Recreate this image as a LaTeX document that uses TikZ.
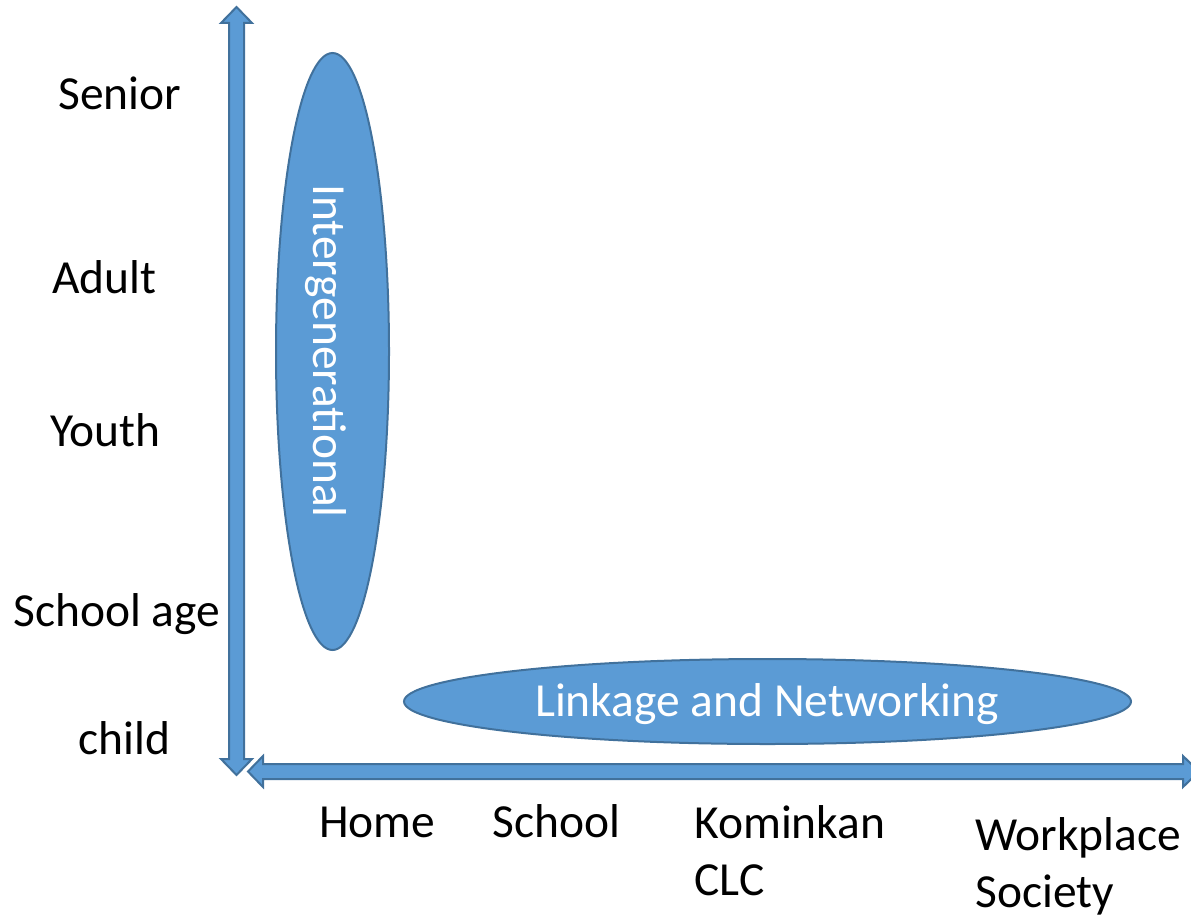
\documentclass[tikz,border=0pt]{standalone}
\usepackage{xcolor}
\usepackage{fontspec}
\setmainfont{Carlito}
\usepackage{tikz}
\usetikzlibrary{shapes, arrows}

\definecolor{blockfill}{RGB}{91,155,213}
\definecolor{blockline}{RGB}{65,113,156}

\begin{document}
\begin{tikzpicture}[x=0.75pt,y=0.75pt,yscale=-1,xscale=1,
  blockarrow/.style={draw=blockline, fill=blockfill, line width=1.5pt, line join=miter},
  bubble/.style={draw=blockline, fill=blockfill, line width=1.5pt},
  axislabel/.style={anchor=base west, inner sep=0pt, align=left, font=\fontsize{35.6}{42.75}\selectfont},
  bubbletext/.style={anchor=base, inner sep=0pt, text=white, font=\fontsize{35.6}{42.75}\selectfont}]
\useasboundingbox (0,0) rectangle (1191,917);

%Block Arrow [age axis]
\draw [blockarrow] (236.5,7) -- (252,23) -- (244,23) -- (244,759) -- (252,759) -- (236.5,775) -- (221,759) -- (229,759) -- (229,23) -- (221,23) -- cycle;
%Block Arrow [place axis]
\draw [blockarrow] (248,771.5) -- (263,756) -- (263,764) -- (1183,764) -- (1183,756) -- (1199,771.5) -- (1183,787) -- (1183,779) -- (263,779) -- (263,787) -- cycle;

%Ellipse [intergenerational]
\draw [bubble] (332.5,351.5) ellipse [x radius=56.5, y radius=298.5];
%Ellipse [linkage]
\draw [bubble] (767.5,701.5) ellipse [x radius=363.5, y radius=42.5];

% Text Node
\node (intergen) [bubbletext, rotate=-90] at (313,351) {Intergenerational};
% Text Node
\node (linkage) [bubbletext] at (767,716) {Linkage and Networking};

% Text Node
\draw (58,109) node (senior) [axislabel] {Senior};
% Text Node
\draw (52,293) node (adult) [axislabel] {Adult};
% Text Node
\draw (50,446) node (youth) [axislabel] {Youth};
% Text Node
\draw (13,626) node (schoolage) [axislabel] {School age};
% Text Node
\draw (78,754) node (child) [axislabel] {child};

% Text Node
\draw (319,837) node (home) [axislabel] {Home};
% Text Node
\draw (492,837) node (school) [axislabel] {School};
% Text Node (base is the last line)
\draw (694,895) node (kominkan) [axislabel] {Kominkan\\CLC};
% Text Node (base is the last line)
\draw (975,907) node (workplace) [axislabel] {Workplace\\Society};

\end{tikzpicture}
\end{document}
